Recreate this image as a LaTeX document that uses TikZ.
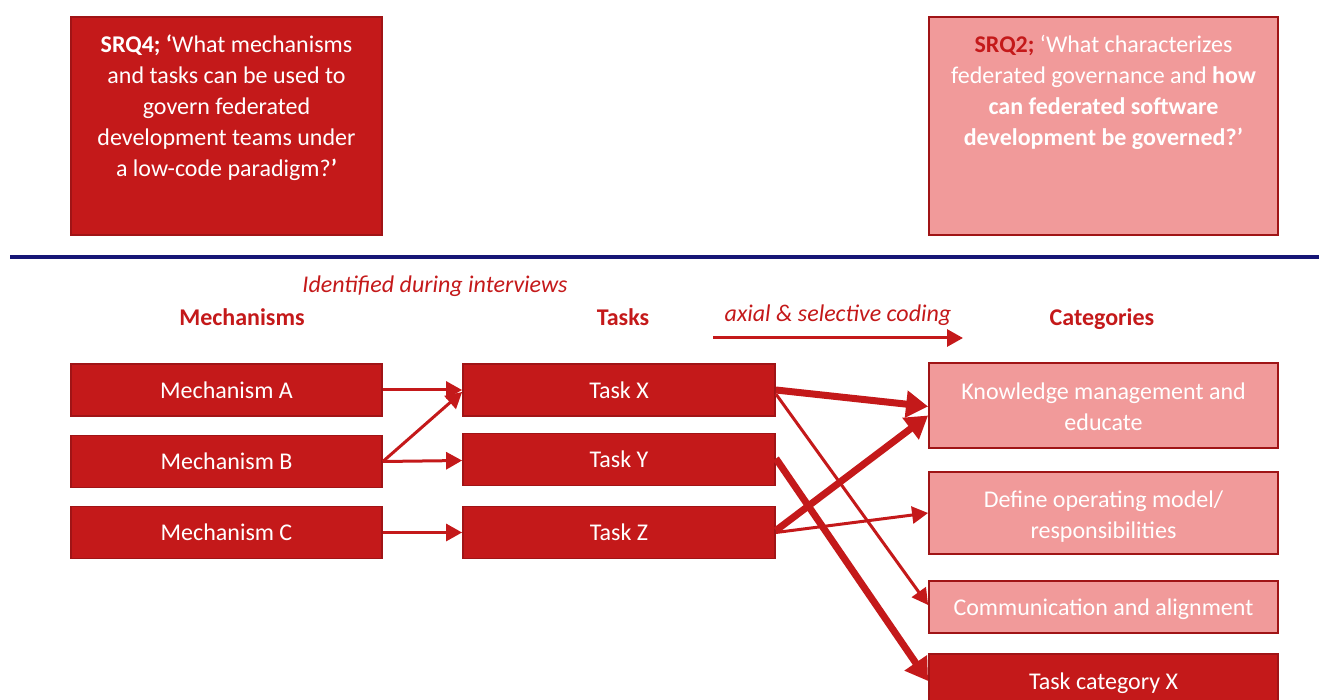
\documentclass[tikz,border=0pt]{standalone}
\usepackage{fontspec}
\setmainfont{Carlito}
\usetikzlibrary{arrows.meta,calc}
\definecolor{dred}{RGB}{196,25,26}
\definecolor{pinkred}{RGB}{241,154,154}
\definecolor{edgered}{RGB}{160,20,22}
\definecolor{navy}{RGB}{22,22,118}
\begin{document}
\begin{tikzpicture}[x=0.5pt,y=-0.5pt,
  txt/.style={font=\fontsize{12}{15.5}\selectfont},
  box/.style={txt,draw=edgered,line width=0.9pt,inner sep=0pt,text=white,align=center},
  darkbox/.style={box,fill=dred},
  lightbox/.style={box,fill=pinkred},
  oneline/.style={text height=10.9pt,text depth=2.5pt},
  twoline/.style={text height=26.4pt,text depth=1pt},
  head/.style={txt,text=dred,font=\fontsize{12}{15.5}\selectfont\bfseries,text height=10.9pt,text depth=2.5pt},
  note/.style={txt,text=dred,font=\fontsize{12}{15.5}\selectfont\itshape},
  thinarrow/.style={draw=dred,line width=1.5pt,-{Triangle[length=8pt,width=8.5pt]}},
  thickarrow/.style={draw=dred,line width=3.5pt,-{Triangle[length=11pt,width=13pt]}},
]
\useasboundingbox (0,0) rectangle (1319,700);

% research question boxes
\node[darkbox,minimum width=155.5pt,minimum height=109pt] (srq4) at (226.5,126) {};
\node[txt,text=white,align=center] (srq4t) at (226.5,108)
  {\textbf{SRQ4; ‘}What mechanisms\\and tasks can be used to\\govern federated\\development teams under\\a low-code paradigm?\textbf{’}};
\node[lightbox,minimum width=174.5pt,minimum height=109pt] (srq2) at (1103.5,126) {};
\node[txt,text=white,align=center] (srq2t) at (1103.5,92.5)
  {\textcolor{dred}{\textbf{SRQ2;}} ‘What characterizes\\federated governance and \textbf{how}\\\textbf{can federated software}\\\textbf{development be governed?’}};

% separator
\coordinate (sepl) at (10,257);
\coordinate (sepr) at (1319,257);
\draw[navy,line width=2pt] (sepl) -- (sepr);

% column headings
\node[note] (ident) at (435,286) {Identified during interviews};
\node[head] (hmech) at (242,317) {Mechanisms};
\node[head] (htask) at (623,317) {Tasks};
\node[head] (hcat) at (1102,317) {Categories};
\node[note] (axial) at (838,315) {axial \& selective coding};
\coordinate (codea) at (713,338);
\coordinate (codeb) at (963,338);
\draw[draw=dred,line width=1.5pt,-{Triangle[length=8pt,width=8.5pt]}] (codea) -- (codeb);

% mechanisms
\node[darkbox,oneline,minimum width=155.5pt,minimum height=26pt] (ma) at (226.5,390) {Mechanism A};
\node[darkbox,oneline,minimum width=155.5pt,minimum height=26pt] (mb) at (226.5,461.5) {Mechanism B};
\node[darkbox,oneline,minimum width=155.5pt,minimum height=26pt] (mc) at (226.5,532.5) {Mechanism C};

% tasks
\node[darkbox,oneline,minimum width=156pt,minimum height=26pt] (tx) at (619,390) {Task X};
\node[darkbox,oneline,minimum width=156pt,minimum height=26pt] (ty) at (619,459.5) {Task Y};
\node[darkbox,oneline,minimum width=156pt,minimum height=26pt] (tz) at (619,532.5) {Task Z};

% categories
\node[lightbox,twoline,minimum width=174.5pt,minimum height=42.5pt] (kn) at (1103.5,405.5) {Knowledge management and\\educate};
\node[lightbox,twoline,minimum width=174.5pt,minimum height=41pt] (om) at (1103.5,513) {Define operating model/\\responsibilities};
\node[lightbox,oneline,minimum width=174.5pt,minimum height=26pt] (ca) at (1103.5,607) {Communication and alignment};
\node[darkbox,oneline,minimum width=174.5pt,minimum height=27pt] (cx) at (1103.5,681) {Task category X};

% mechanism -> task
\draw[thinarrow] (ma.east) -- (tx.west);
\draw[thinarrow] (mb.east) -- ($(tx.west)+(0,2)$);
\draw[thinarrow] (mb.east) -- ($(ty.west)+(0,1)$);
\draw[thinarrow] (mc.east) -- (tz.west);

% task -> category
\draw[thickarrow] (tx.east) -- ($(kn.west)+(0,1)$);
\draw[thinarrow] ($(tx.east)+(0,4)$) -- ($(ca.west)+(0,-2)$);
\draw[thickarrow] ($(ty.east)+(0,-1)$) -- (cx.west);
\draw[thickarrow] ($(tz.east)+(0,-2)$) -- ($(kn.west)+(0,10)$);
\draw[thinarrow] (tz.east) -- (om.west);
\end{tikzpicture}
\end{document}
